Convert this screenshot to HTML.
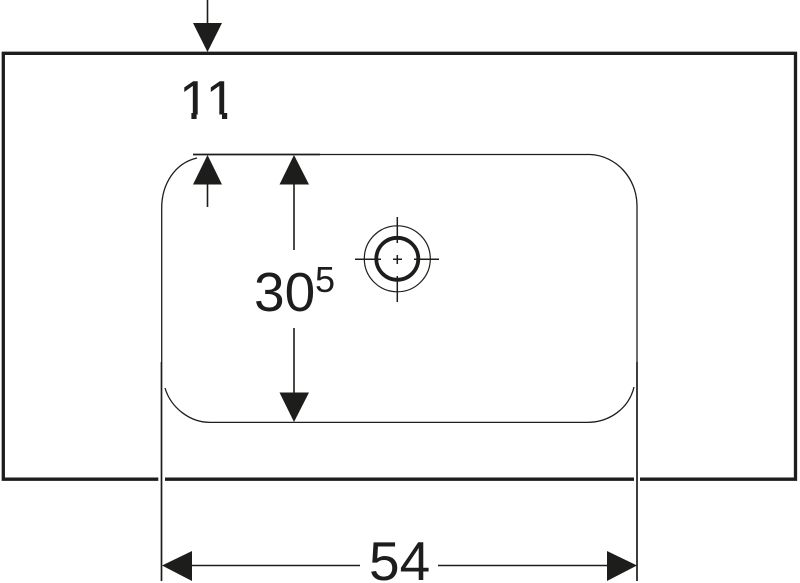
<!DOCTYPE html>
<html>
<head>
<meta charset="utf-8">
<style>
html,body{margin:0;padding:0;background:#fff;width:800px;height:583px;overflow:hidden}
svg{display:block}
text{font-family:"Liberation Sans",sans-serif;fill:#1d1d1b}
</style>
</head>
<body>
<svg width="800" height="583" viewBox="0 0 800 583" xmlns="http://www.w3.org/2000/svg">
<text x="179" y="119" font-size="55">11</text>
<!-- hide the foot of the digit 1, as the reference typeface has none -->
<rect x="176" y="114.500" width="68" height="7" fill="#fff"/>
<rect x="191.400" y="113" width="5.200" height="6" fill="#1d1d1b"/>
<rect x="222" y="113" width="5.200" height="6" fill="#1d1d1b"/>
<g fill="none" stroke="#1d1d1b">
  <!-- outer rectangle -->
  <path d="M158.300 479.200H3.300V53.300H795.500V479.200H640M634 479.200H165" stroke-width="3.300"/>
  <!-- basin outline -->
  <path d="M320 154.500H590C616 155.500 637 178 637 206V362" stroke-width="1.300"/>
  <path d="M197 158C175 163 161.700 184 161.700 208V362" stroke-width="1.300"/>
  <path d="M165 388C171 408 190 422.400 210 422.400H587C610 422.400 629 408 634 387" stroke-width="1.300"/>
  <path d="M193 154.500H320" stroke-width="1.800"/>
  <!-- extension lines -->
  <path d="M161.500 362V581M637 362V581" stroke-width="1.700"/>
  <!-- dimension lines -->
  <path d="M207.500 0V26M207.500 182V207M294 182V250M294 328V395" stroke-width="1.600"/>
  <path d="M190 565.500H360M438 565.500H609" stroke-width="1.600"/>
  <!-- drain -->
  <circle cx="397.300" cy="258.800" r="33" stroke-width="1.200"/>
  <circle cx="397.300" cy="258.800" r="21" stroke-width="3.800"/>
  <path d="M397.300 217V243M397.300 276V302M355 259.300H381M414 259.300H439M393 259.300H402M397.300 255V264" stroke-width="1.500"/>
</g>
<g fill="#1d1d1b" stroke="none">
  <polygon points="193,23 222,23 207.500,52"/>
  <polygon points="207.500,155 193,184.500 222,184.500"/>
  <polygon points="294,155 279.500,184.500 309,184.500"/>
  <polygon points="279.500,392.500 309,392.500 294,422"/>
  <polygon points="162,565.500 192,551 192,581"/>
  <polygon points="607,551 607,581 637,565.500"/>
</g>
<text x="254" y="311" font-size="55">30</text>
<text x="315" y="292" font-size="36">5</text>
<text x="369" y="580" font-size="55">54</text>
</svg>
</body>
</html>
